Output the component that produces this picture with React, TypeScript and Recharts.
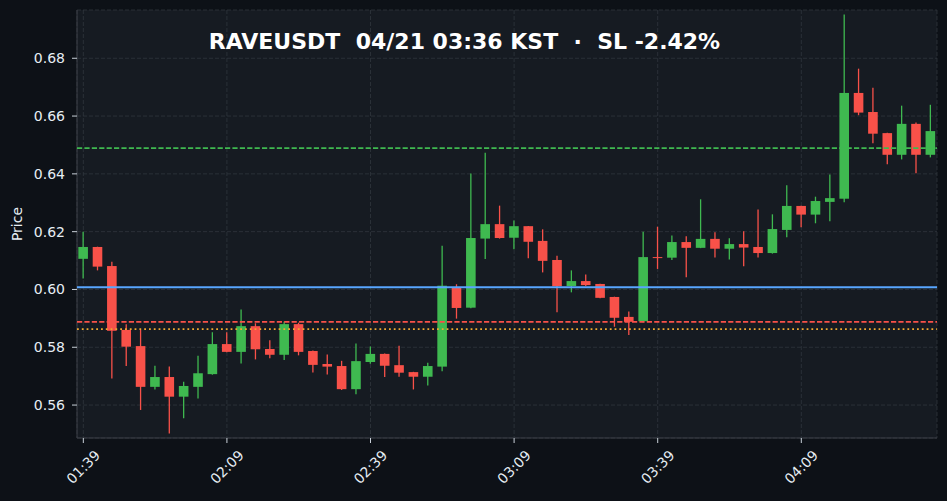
import { ComposedChart, Bar, XAxis, YAxis, CartesianGrid, ReferenceLine } from "recharts";

const times = [
  "01:39", "01:42", "01:45", "01:48", "01:51", "01:54", "01:57", "02:00", "02:03", "02:06",
  "02:09", "02:12", "02:15", "02:18", "02:21", "02:24", "02:27", "02:30", "02:33", "02:36",
  "02:39", "02:42", "02:45", "02:48", "02:51", "02:54", "02:57", "03:00", "03:03", "03:06",
  "03:09", "03:12", "03:15", "03:18", "03:21", "03:24", "03:27", "03:30", "03:33", "03:36",
  "03:39", "03:42", "03:45", "03:48", "03:51", "03:54", "03:57", "04:00", "04:03", "04:06",
  "04:09", "04:12", "04:15", "04:18", "04:21", "04:24", "04:27", "04:30", "04:33", "04:36",
];

const opens = [
  0.6106, 0.6147, 0.6081, 0.5860, 0.5804, 0.5663, 0.5697, 0.5629, 0.5663, 0.5707,
  0.5811, 0.5784, 0.5873, 0.5794, 0.5774, 0.5880, 0.5787, 0.5742, 0.5735, 0.5655,
  0.5749, 0.5777, 0.5738, 0.5714, 0.5698, 0.5733, 0.6007, 0.5937, 0.6176, 0.6226,
  0.6179, 0.6219, 0.6168, 0.6102, 0.6012, 0.6029, 0.6019, 0.5974, 0.5905, 0.5890,
  0.6112, 0.6110, 0.6164, 0.6144, 0.6175, 0.6141, 0.6157, 0.6147, 0.6126, 0.6206,
  0.6289, 0.6259, 0.6303, 0.6314, 0.6680, 0.6614, 0.6541, 0.6466, 0.6573, 0.6466,
];

const highs = [
  0.6200, 0.6148, 0.6096, 0.5880, 0.5860, 0.5736, 0.5733, 0.5681, 0.5771, 0.5852,
  0.5852, 0.5931, 0.5883, 0.5824, 0.5888, 0.5885, 0.5789, 0.5775, 0.5753, 0.5813,
  0.5803, 0.5778, 0.5805, 0.5715, 0.5746, 0.6151, 0.6018, 0.6401, 0.6473, 0.6290,
  0.6239, 0.6220, 0.6208, 0.6117, 0.6066, 0.6052, 0.6020, 0.5975, 0.5924, 0.6200,
  0.6217, 0.6187, 0.6184, 0.6312, 0.6198, 0.6177, 0.6201, 0.6277, 0.6260, 0.6361,
  0.6290, 0.6321, 0.6398, 0.6951, 0.6764, 0.6698, 0.6542, 0.6636, 0.6578, 0.6639,
];

const lows = [
  0.6038, 0.6066, 0.5692, 0.5735, 0.5583, 0.5654, 0.5502, 0.5554, 0.5623, 0.5705,
  0.5783, 0.5744, 0.5758, 0.5762, 0.5756, 0.5772, 0.5713, 0.5706, 0.5652, 0.5637,
  0.5743, 0.5697, 0.5698, 0.5654, 0.5668, 0.5717, 0.5899, 0.5935, 0.6105, 0.6176,
  0.6139, 0.6108, 0.6059, 0.5921, 0.5990, 0.6012, 0.5970, 0.5871, 0.5842, 0.5886,
  0.6071, 0.6102, 0.6042, 0.6143, 0.6111, 0.6104, 0.6080, 0.6111, 0.6124, 0.6181,
  0.6215, 0.6229, 0.6236, 0.6302, 0.6603, 0.6506, 0.6433, 0.6450, 0.6402, 0.6457,
];

const closes = [
  0.6147, 0.6079, 0.5857, 0.5802, 0.5663, 0.5697, 0.5629, 0.5666, 0.5710, 0.5811,
  0.5784, 0.5873, 0.5793, 0.5774, 0.5880, 0.5784, 0.5739, 0.5733, 0.5655, 0.5752,
  0.5777, 0.5736, 0.5712, 0.5698, 0.5735, 0.6013, 0.5936, 0.6178, 0.6226, 0.6178,
  0.6219, 0.6165, 0.6099, 0.6011, 0.6029, 0.6015, 0.5971, 0.5902, 0.5888, 0.6112,
  0.6110, 0.6164, 0.6144, 0.6175, 0.6141, 0.6157, 0.6145, 0.6126, 0.6209, 0.6289,
  0.6259, 0.6306, 0.6316, 0.6680, 0.6612, 0.6539, 0.6466, 0.6573, 0.6466, 0.6548,
];

const xTicks = [0, 10, 20, 30, 40, 50];
const yTicks = [0.56, 0.58, 0.6, 0.62, 0.64, 0.66, 0.68];

// levels drawn across the chart
const takeProfit = 0.6489;
const entry = 0.6008;
const stopLoss = 0.5888;
const liq = 0.5863;

const FONT = "DejaVu Sans";
const GREEN = "#3fb950";
const RED = "#f85149";
const BORDER = "#3a3f47";
const TEXT = "#e6edf3";
const X_DOMAIN: [number, number] = [-0.44, 59.45];
const Y_DOMAIN: [number, number] = [0.5486, 0.6967];
const MARGIN = { top: 10, right: 10, left: 0, bottom: 0 };

const rows = times.map((t, i) => ({
  i,
  t,
  open: opens[i],
  high: highs[i],
  low: lows[i],
  close: closes[i],
  range: [lows[i], highs[i]],
}));

function Candle(props: any) {
  const { x, y, width, height, payload } = props;
  const { open, close, high, low } = payload;
  const k = high > low ? height / (high - low) : 0;
  const py = (v: number) => y + (high - v) * k;
  const color = close >= open ? GREEN : RED;
  const cx = x + width / 2;
  const top = py(Math.max(open, close));
  const bot = py(Math.min(open, close));
  return (
    <g>
      <line x1={cx} x2={cx} y1={y} y2={y + height} stroke={color} strokeWidth={1.3} />
      <rect x={cx - 4.8} y={top} width={9.6} height={Math.max(bot - top, 1)} fill={color} />
    </g>
  );
}

function TimeTick(props: any) {
  const { x, y, payload } = props;
  const cy = y + 22;
  return (
    <text
      x={x}
      y={cy}
      textAnchor="middle"
      dominantBaseline="central"
      fill={TEXT}
      fontSize={14}
      fontFamily={FONT}
      transform={`rotate(-45, ${x}, ${cy})`}
    >
      {times[payload.value]}
    </text>
  );
}

function PriceLabel(props: any) {
  const vb = props.viewBox || { x: 0, y: 10, width: 77, height: 428 };
  const cx = 17;
  const cy = vb.y + vb.height / 2;
  return (
    <text
      x={cx}
      y={cy}
      textAnchor="middle"
      dominantBaseline="central"
      fill={TEXT}
      fontSize={14}
      fontFamily={FONT}
      transform={`rotate(-90, ${cx}, ${cy})`}
    >
      Price
    </text>
  );
}

export default function App() {
  return (
    <div style={{ position: "fixed", left: 0, top: 0, width: 947, height: 501, background: "#0d1117", fontFamily: FONT }}>
      <ComposedChart width={947} height={501} data={rows} margin={MARGIN}>
        <CartesianGrid fill="#161b22" stroke="#30363d" strokeDasharray="4 2" strokeOpacity={0.8} />
        <XAxis
          dataKey="i"
          type="number"
          domain={X_DOMAIN}
          ticks={xTicks}
          allowDataOverflow
          height={63}
          tickSize={5}
          tickMargin={2}
          axisLine={{ stroke: BORDER }}
          tickLine={{ stroke: "#c9d1d9" }}
          tick={<TimeTick />}
          interval={0}
        />
        <XAxis xAxisId="top" dataKey="i" type="number" domain={X_DOMAIN} orientation="top" height={0} tick={false} tickLine={false} axisLine={{ stroke: BORDER }} />
        <YAxis
          domain={Y_DOMAIN}
          ticks={yTicks}
          allowDataOverflow
          width={77}
          tickSize={5}
          tickMargin={7}
          tickFormatter={(v: number) => v.toFixed(2)}
          tick={{ fill: TEXT, fontSize: 14, fontFamily: FONT }}
          axisLine={{ stroke: BORDER }}
          tickLine={{ stroke: "#c9d1d9" }}
          label={<PriceLabel />}
        />
        <YAxis yAxisId="right" orientation="right" width={0} tick={false} tickLine={false} axisLine={{ stroke: BORDER }} />
        <Bar dataKey="range" barSize={10} shape={<Candle />} isAnimationActive={false} />
      </ComposedChart>

      {/* level lines on top of the candles, same axes */}
      <div style={{ position: "absolute", left: 0, top: 0 }}>
        <ComposedChart width={947} height={501} data={rows} margin={MARGIN}>
          <XAxis dataKey="i" type="number" domain={X_DOMAIN} allowDataOverflow height={63} tick={false} tickLine={false} axisLine={false} />
          <YAxis domain={Y_DOMAIN} allowDataOverflow width={77} tick={false} tickLine={false} axisLine={false} />
          <ReferenceLine y={takeProfit} stroke={GREEN} strokeWidth={1.8} strokeDasharray="5.2 2.2" />
          <ReferenceLine y={entry} stroke="#58a6ff" strokeWidth={2} />
          <ReferenceLine y={stopLoss} stroke={RED} strokeWidth={1.8} strokeDasharray="5.2 2.2" />
          <ReferenceLine y={liq} stroke="#f0a830" strokeWidth={1.8} strokeDasharray="1.8 3" />
        </ComposedChart>
      </div>

      <div
        style={{
          position: "absolute",
          left: 0,
          width: 929,
          top: 31,
          textAlign: "center",
          color: "#ffffff",
          fontWeight: "bold",
          fontSize: 22,
          lineHeight: "22px",
          whiteSpace: "pre",
          fontFamily: FONT,
        }}
      >
        {"RAVEUSDT  04/21 03:36 KST  ·  SL -2.42%"}
      </div>
    </div>
  );
}
